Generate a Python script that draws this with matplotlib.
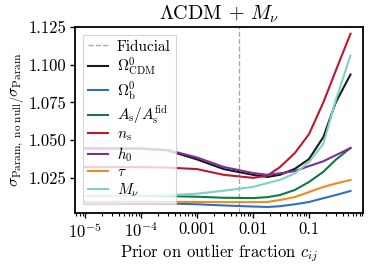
import matplotlib
matplotlib.use("Agg")
import matplotlib.pyplot as plt
import numpy as np

plt.rcParams['font.family'] = 'serif'
plt.rcParams['font.serif'] = ['cmr10']
plt.rcParams['mathtext.fontset'] = 'cm'
plt.rcParams['axes.formatter.use_mathtext'] = True

# prior on outlier fraction
c_prior = [1e-5, 3e-5, 1e-4, 3e-4, 1e-3, 3e-3, 1e-2, 1.8e-2, 3e-2, 5.6e-2, 0.1, 0.18, 0.3, 0.55]
fiducial = 0.0056

om_cdm = [1.0445, 1.0445, 1.0444, 1.0432, 1.0372, 1.0308, 1.0270, 1.0256, 1.0270, 1.0310, 1.0375, 1.0520, 1.0750, 1.0935]
om_b   = [1.0085, 1.0085, 1.0084, 1.0080, 1.0075, 1.0067, 1.0060, 1.0057, 1.0062, 1.0075, 1.0090, 1.0115, 1.0136, 1.0163]
a_s    = [1.0130, 1.0130, 1.0130, 1.0129, 1.0125, 1.0118, 1.0116, 1.0122, 1.0136, 1.0170, 1.0223, 1.0290, 1.0370, 1.0448]
n_s    = [1.0322, 1.0322, 1.0321, 1.0318, 1.0308, 1.0270, 1.0250, 1.0265, 1.0320, 1.0415, 1.0540, 1.0750, 1.0960, 1.1205]
h_0    = [1.0445, 1.0445, 1.0444, 1.0435, 1.0385, 1.0322, 1.0282, 1.0270, 1.0280, 1.0295, 1.0328, 1.0360, 1.0400, 1.0448]
tau    = [1.0091, 1.0091, 1.0091, 1.0090, 1.0090, 1.0089, 1.0089, 1.0090, 1.0103, 1.0123, 1.0156, 1.0190, 1.0212, 1.0236]
m_nu   = [1.0130, 1.0130, 1.0131, 1.0135, 1.0145, 1.0165, 1.0190, 1.0215, 1.0236, 1.0280, 1.0355, 1.0475, 1.0765, 1.1060]

series = [
    (om_cdm, r'$\Omega^0_{\rm CDM}$', '#1a1a1a'),
    (om_b, r'$\Omega^0_{\rm b}$', '#2f6fc2'),
    (a_s, r'$A_{\rm s}/A_{\rm s}^{\rm fid}$', '#0f7a45'),
    (n_s, r'$n_{\rm s}$', '#c0152f'),
    (h_0, r'$h_0$', '#7d2e97'),
    (tau, r'$\tau$', '#ef8a1f'),
    (m_nu, r'$M_\nu$', '#7dd3c3'),
]

fig = plt.figure(figsize=(3.74, 2.67), dpi=100)
ax = fig.add_axes([0.2005, 0.2022, 0.7701, 0.6968])

ax.axvline(fiducial, color='#aaaaaa', ls='--', lw=1.0, label='Fiducial')
for vals, lab, col in series:
    ax.plot(c_prior, vals, color=col, lw=1.5, label=lab)

ax.set_xscale('log')
ax.set_xlim(6.6e-6, 0.92)
ax.set_ylim(1.0017, 1.125)

ax.set_xticks([1e-5, 1e-4, 1e-3, 1e-2, 1e-1])
ax.set_xticklabels([r'$10^{-5}$', r'$10^{-4}$', '0.001', '0.01', '0.1'])
ax.set_yticks([1.025, 1.050, 1.075, 1.100, 1.125])
ax.set_yticklabels(['1.025', '1.050', '1.075', '1.100', '1.125'])
ax.tick_params(axis='both', which='major', labelsize=12, length=3.5, width=1.0, pad=2.5)
ax.tick_params(axis='x', which='minor', length=2, width=0.8)
for s in ax.spines.values():
    s.set_linewidth(1.3)

ax.set_xlabel(r'Prior on outlier fraction $c_{ij}$', fontsize=12, labelpad=1)
ax.set_ylabel(r'$\left.\sigma_{\rm Param,\ no\ null}\right/\sigma_{\rm Param}$', fontsize=11.5, labelpad=2)
ax.set_title(r'$\Lambda{\rm CDM}$ + $M_\nu$', fontsize=14.5, pad=5)

leg = ax.legend(loc='upper left', fontsize=11, handlelength=1.3, fancybox=False,
                framealpha=0.8, edgecolor='#cccccc', borderaxespad=0.5,
                labelspacing=0.12, borderpad=0.35, handletextpad=0.6)
leg.get_frame().set_linewidth(0.8)

fig.savefig('out.png', dpi=100)
